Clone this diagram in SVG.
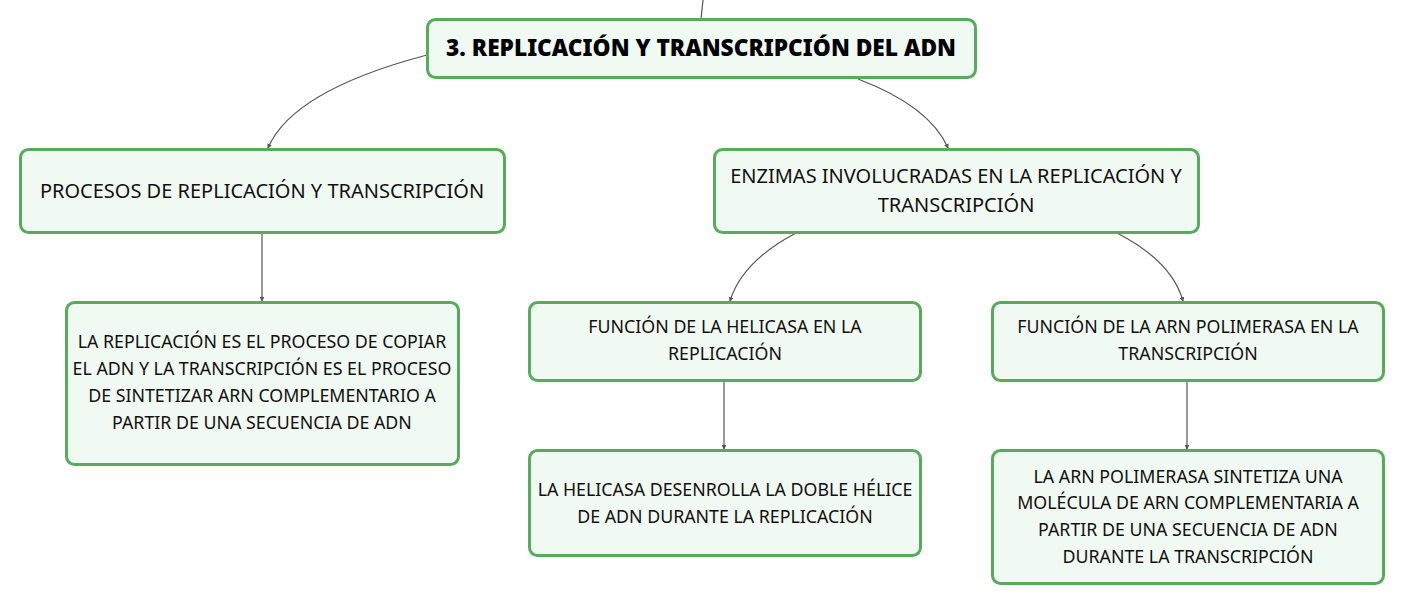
<svg xmlns="http://www.w3.org/2000/svg" width="1405" height="605" viewBox="0 0 1405 605">
<defs>
<style>
.box{fill:#f1faf2;stroke:#57ac5b;stroke-width:3}
.t{font-family:"Noto Sans","Open Sans","Liberation Sans",sans-serif;font-size:17.8px;fill:#111;text-anchor:middle}
.t1{font-size:20px}
.title{font-family:"Noto Sans","Open Sans","Liberation Sans",sans-serif;font-size:22.7px;font-weight:900;fill:#000;text-anchor:middle}
.c{fill:none;stroke:#555;stroke-width:1.2}
</style>
<marker id="a" viewBox="0 0 6 6" refX="5" refY="3" markerWidth="4" markerHeight="4" orient="auto">
<path d="M0,0 L6,3 L0,6 z" fill="#555"/>
</marker>
</defs>
<rect width="1405" height="605" fill="#ffffff"/>
<g id="connectors">
<path class="c" d="M703,0 L701,19"/>
<path class="c" d="M427,55 C340,78 285,108 268,148" marker-end="url(#a)"/>
<path class="c" d="M858,79 C900,95 935,118 948,148" marker-end="url(#a)"/>
<path class="c" d="M262,233 L262,301" marker-end="url(#a)"/>
<path class="c" d="M796,233 C760,252 738,275 730,301" marker-end="url(#a)"/>
<path class="c" d="M1117,233 C1150,250 1175,272 1183,301" marker-end="url(#a)"/>
<path class="c" d="M724,381 L724,449" marker-end="url(#a)"/>
<path class="c" d="M1187,381 L1187,449" marker-end="url(#a)"/>
</g>
<g id="n-title">
<rect class="box" x="427.5" y="19.5" width="548" height="58" rx="8"/>
<text class="title" x="701" y="56">3. REPLICACIÓN Y TRANSCRIPCIÓN DEL ADN</text>
</g>
<g id="n-procesos">
<rect class="box" x="20.5" y="149.5" width="484" height="83" rx="8"/>
<text class="t t1" x="262" y="198">PROCESOS DE REPLICACIÓN Y TRANSCRIPCIÓN</text>
</g>
<g id="n-enzimas">
<rect class="box" x="714.5" y="149.5" width="484" height="83" rx="8"/>
<text class="t t1" x="956" y="183">ENZIMAS INVOLUCRADAS EN LA REPLICACIÓN Y</text>
<text class="t t1" x="956" y="212">TRANSCRIPCIÓN</text>
</g>
<g id="n-replicacion">
<rect class="box" x="66.5" y="302.5" width="392" height="162" rx="8"/>
<text class="t" x="262" y="348">LA REPLICACIÓN ES EL PROCESO DE COPIAR</text>
<text class="t" x="262" y="375">EL ADN Y LA TRANSCRIPCIÓN ES EL PROCESO</text>
<text class="t" x="262" y="402">DE SINTETIZAR ARN COMPLEMENTARIO A</text>
<text class="t" x="262" y="429">PARTIR DE UNA SECUENCIA DE ADN</text>
</g>
<g id="n-helicasa">
<rect class="box" x="529.5" y="302.5" width="391" height="78" rx="8"/>
<text class="t" x="725" y="333">FUNCIÓN DE LA HELICASA EN LA</text>
<text class="t" x="725" y="360">REPLICACIÓN</text>
</g>
<g id="n-arnpol">
<rect class="box" x="992.5" y="302.5" width="391" height="78" rx="8"/>
<text class="t" x="1188" y="333">FUNCIÓN DE LA ARN POLIMERASA EN LA</text>
<text class="t" x="1188" y="360">TRANSCRIPCIÓN</text>
</g>
<g id="n-helicasa-desc">
<rect class="box" x="529.5" y="450.5" width="391" height="105" rx="8"/>
<text class="t" x="725" y="496">LA HELICASA DESENROLLA LA DOBLE HÉLICE</text>
<text class="t" x="725" y="523">DE ADN DURANTE LA REPLICACIÓN</text>
</g>
<g id="n-arnpol-desc">
<rect class="box" x="992.5" y="450.5" width="391" height="133" rx="8"/>
<text class="t" x="1188" y="483">LA ARN POLIMERASA SINTETIZA UNA</text>
<text class="t" x="1188" y="509">MOLÉCULA DE ARN COMPLEMENTARIA A</text>
<text class="t" x="1188" y="536">PARTIR DE UNA SECUENCIA DE ADN</text>
<text class="t" x="1188" y="563">DURANTE LA TRANSCRIPCIÓN</text>
</g>
</svg>
